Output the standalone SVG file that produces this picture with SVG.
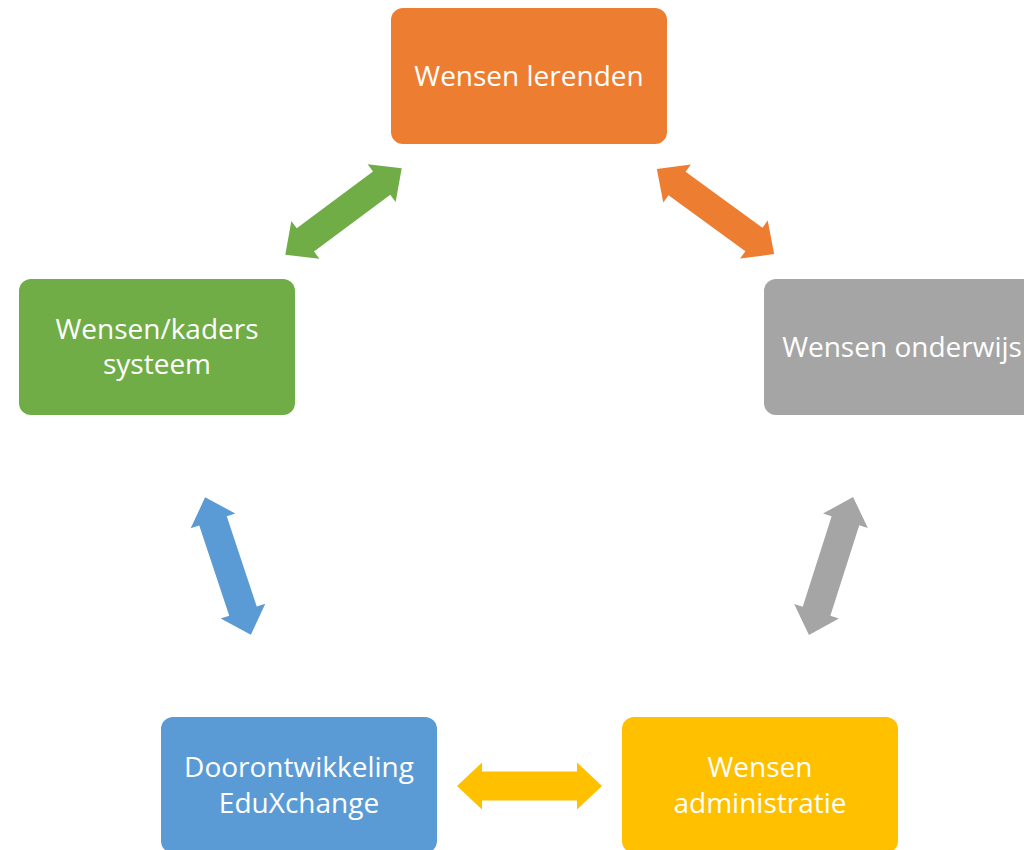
<svg xmlns="http://www.w3.org/2000/svg" xmlns:xlink="http://www.w3.org/1999/xlink" width="1024" height="850" viewBox="0 0 1024 850">
<style>
.box{stroke:none}
.t{font-family:"Open Sans","Noto Sans","DejaVu Sans",sans-serif;font-size:28px;fill:#ffffff;text-anchor:middle}
</style>
<defs>
<path id="darrow" d="M -72.5 0 L -47.5 -23.5 L -47.5 -14.5 L 47.5 -14.5 L 47.5 -23.5 L 72.5 0 L 47.5 23.5 L 47.5 14.5 L -47.5 14.5 L -47.5 23.5 Z"/>
</defs>
<rect width="1024" height="850" fill="#ffffff"/>
<g id="connectors">
<use xlink:href="#darrow" href="#darrow" fill="#70AD47" transform="translate(343.5 211.5) rotate(-36.6)"/>
<use xlink:href="#darrow" href="#darrow" fill="#ED7D31" transform="translate(715.5 211.5) rotate(36)"/>
<use xlink:href="#darrow" href="#darrow" fill="#5B9BD5" transform="translate(228 566) rotate(71.6)"/>
<use xlink:href="#darrow" href="#darrow" fill="#A5A5A5" transform="translate(831 566) rotate(-72.3)"/>
<use xlink:href="#darrow" href="#darrow" fill="#FFC000" transform="translate(529.5 786)"/>
</g>
<g id="node-lerenden">
<rect class="box" x="391" y="8" width="276" height="136" rx="12" fill="#ED7D31"/>
<text class="t" x="529" y="86">Wensen lerenden</text>
</g>
<g id="node-systeem">
<rect class="box" x="19" y="279" width="276" height="136" rx="12" fill="#70AD47"/>
<text class="t" x="157" y="339">Wensen/kaders</text>
<text class="t" x="157" y="374">systeem</text>
</g>
<g id="node-onderwijs">
<rect class="box" x="764" y="279" width="276" height="136" rx="12" fill="#A5A5A5"/>
<text class="t" x="902" y="357">Wensen onderwijs</text>
</g>
<g id="node-eduxchange">
<rect class="box" x="161" y="717" width="276" height="136" rx="12" fill="#5B9BD5"/>
<text class="t" x="299" y="777">Doorontwikkeling</text>
<text class="t" x="299" y="813">EduXchange</text>
</g>
<g id="node-administratie">
<rect class="box" x="622" y="717" width="276" height="136" rx="12" fill="#FFC000"/>
<text class="t" x="760" y="777">Wensen</text>
<text class="t" x="760" y="813">administratie</text>
</g>
</svg>
